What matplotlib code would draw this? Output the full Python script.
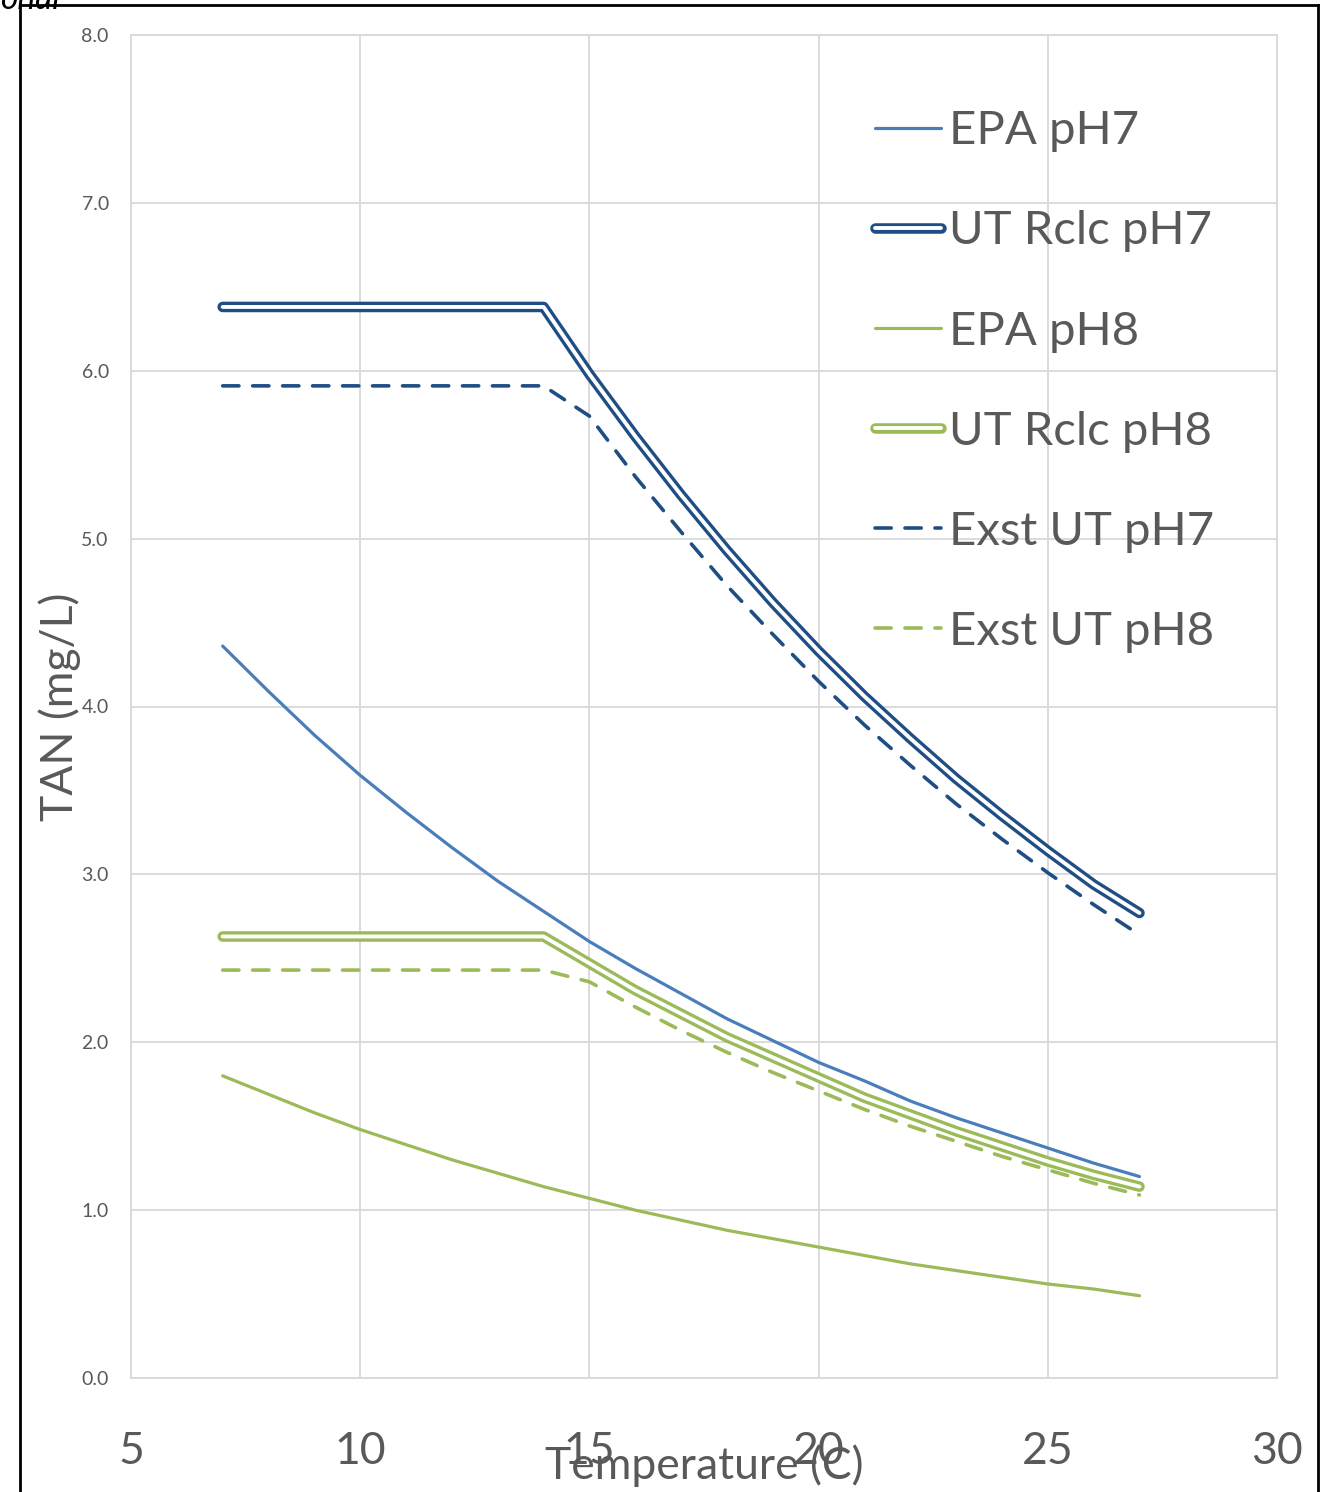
import matplotlib.pyplot as plt
import matplotlib.patheffects as pe
from matplotlib.lines import Line2D

plt.rcParams['font.family'] = ['Lato', 'DejaVu Sans']

temp = [7, 8, 9, 10, 11, 12, 13, 14, 15, 16, 17, 18, 19, 20, 21, 22, 23, 24, 25, 26, 27]

epa_ph7 = [4.36, 4.09, 3.83, 3.59, 3.37, 3.16, 2.96, 2.78, 2.60, 2.44, 2.29,
           2.14, 2.01, 1.88, 1.77, 1.65, 1.55, 1.46, 1.37, 1.28, 1.20]
ut_ph7 = [6.38, 6.38, 6.38, 6.38, 6.38, 6.38, 6.38, 6.38, 5.98, 5.61, 5.26,
          4.93, 4.62, 4.33, 4.06, 3.81, 3.57, 3.35, 3.14, 2.94, 2.77]
epa_ph8 = [1.80, 1.69, 1.58, 1.48, 1.39, 1.30, 1.22, 1.14, 1.07, 1.00, 0.94,
           0.88, 0.83, 0.78, 0.73, 0.68, 0.64, 0.60, 0.56, 0.53, 0.49]
ut_ph8 = [2.63, 2.63, 2.63, 2.63, 2.63, 2.63, 2.63, 2.63, 2.47, 2.31, 2.17,
          2.03, 1.91, 1.79, 1.67, 1.57, 1.47, 1.38, 1.29, 1.21, 1.14]
exst_ph7 = [5.91, 5.91, 5.91, 5.91, 5.91, 5.91, 5.91, 5.91, 5.73, 5.37, 5.04,
            4.72, 4.43, 4.15, 3.89, 3.65, 3.42, 3.21, 3.01, 2.82, 2.64]
exst_ph8 = [2.43, 2.43, 2.43, 2.43, 2.43, 2.43, 2.43, 2.43, 2.36, 2.21, 2.07,
            1.94, 1.82, 1.71, 1.60, 1.50, 1.41, 1.32, 1.24, 1.16, 1.09]

blue = '#4a7ebb'
navy = '#1f4e84'
green = '#9bbb59'
grey_txt = '#595959'
grid_c = '#d9d9d9'

fig = plt.figure(figsize=(13.21, 14.92), dpi=100)
ax = fig.add_axes([131 / 1321, 1 - 1378 / 1492, (1277 - 131) / 1321, (1378 - 35) / 1492])


def double(color):
    # compound (double) line like Excel: thick coloured stroke, white core
    return [pe.Stroke(linewidth=7.6, foreground=color, capstyle='round', joinstyle='round'),
            pe.Normal()]


ax.plot(temp, epa_ph7, color=blue, lw=2.3, solid_capstyle='round', label='EPA pH7')
ax.plot(temp, ut_ph7, color='white', lw=2.8, solid_capstyle='round',
        path_effects=double(navy), label='UT Rclc pH7')
ax.plot(temp, epa_ph8, color=green, lw=2.3, solid_capstyle='round', label='EPA pH8')
ax.plot(temp, ut_ph8, color='white', lw=2.8, solid_capstyle='round',
        path_effects=double(green), label='UT Rclc pH8')
ax.plot(temp, exst_ph7, color=navy, lw=2.6, ls=(0, (4.5, 3.8)),
        dash_capstyle='round', label='Exst UT pH7')
ax.plot(temp, exst_ph8, color=green, lw=2.6, ls=(0, (4.5, 3.8)),
        dash_capstyle='round', label='Exst UT pH8')

ax.set_xlim(5, 30)
ax.set_ylim(0, 8)
ax.set_xticks([5, 10, 15, 20, 25, 30])
ax.set_yticks([0, 1, 2, 3, 4, 5, 6, 7, 8])
ax.set_yticklabels([f'{v:.1f}' for v in range(9)])
ax.grid(True, color=grid_c, lw=1.3)
ax.set_axisbelow(True)
for s in ax.spines.values():
    s.set_color(grid_c)
    s.set_linewidth(1.3)
ax.tick_params(axis='both', length=0, colors=grey_txt)
ax.tick_params(axis='y', labelsize=14, pad=16)
ax.tick_params(axis='x', labelsize=32, pad=38)

ax.set_xlabel('Temperature (C)', fontsize=32, color=grey_txt, labelpad=-20)
ax.set_ylabel('TAN (mg/L)', fontsize=32, color=grey_txt, labelpad=0)

leg = ax.legend(loc='upper left', bbox_to_anchor=(0.612, 0.9755), frameon=False,
                fontsize=34, handlelength=1.41, handletextpad=0.17,
                labelspacing=1.23, labelcolor=grey_txt)

# outer frame of the page
fig.add_artist(Line2D([20 / 1321, 20 / 1321], [0, 1 - 5 / 1492], color='black', lw=2))
fig.add_artist(Line2D([20 / 1321, 1318 / 1321], [1 - 5 / 1492, 1 - 5 / 1492], color='black', lw=2))
fig.add_artist(Line2D([1318 / 1321, 1318 / 1321], [0, 1 - 5 / 1492], color='black', lw=2))
fig.text(0.0, 1.0, 'onal', fontsize=24, style='italic', color='black', va='center', ha='left')

fig.savefig('out.png', dpi=100)
